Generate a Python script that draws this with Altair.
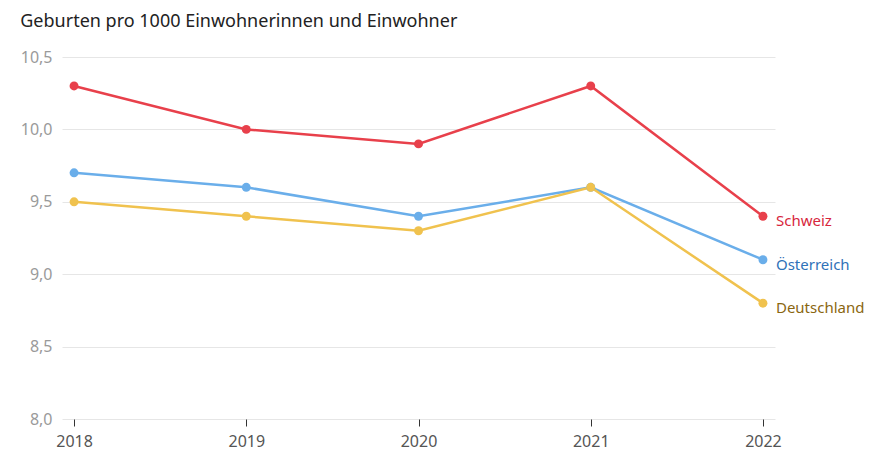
import altair as alt
import pandas as pd

years = [2018, 2019, 2020, 2021, 2022]
countries = ["Schweiz", "Österreich", "Deutschland"]
schweiz = [10.3, 10.0, 9.9, 10.3, 9.4]
oesterreich = [9.7, 9.6, 9.4, 9.6, 9.1]
deutschland = [9.5, 9.4, 9.3, 9.6, 8.8]
line_colors = ["#e8404b", "#6aaeea", "#f0c24e"]
label_colors = ["#d7263d", "#2f72b8", "#8a6610"]

rows = []
for c, vals in zip(countries, [schweiz, oesterreich, deutschland]):
    for y, v in zip(years, vals):
        rows.append({"Jahr": y, "Land": c, "Wert": v})
df = pd.DataFrame(rows)
last = df[df["Jahr"] == 2022]

FONT = "Noto Sans"

x = alt.X("Jahr:Q", scale=alt.Scale(domain=[2017.93, 2022.07], nice=False, zero=False),
          axis=alt.Axis(values=years, format="d", title=None, grid=False, domain=False,
                        ticks=True, tickColor="#333333", tickSize=7, tickWidth=1,
                        labelFontSize=16, labelColor="#555555", labelPadding=7,
                        labelFont=FONT))
y = alt.Y("Wert:Q", scale=alt.Scale(domain=[8.0, 10.5], nice=False, zero=False),
          axis=alt.Axis(values=[8.0, 8.5, 9.0, 9.5, 10.0, 10.5], title=None, domain=False,
                        ticks=False, gridColor="#e6e6e6", gridWidth=1,
                        labelExpr="replace(format(datum.value, '.1f'), '.', ',')",
                        labelFontSize=16, labelColor="#9a9a9a", labelPadding=10,
                        labelFont=FONT))
color = alt.Color("Land:N", scale=alt.Scale(domain=countries, range=line_colors), legend=None)

lines = alt.Chart(df).mark_line(strokeWidth=2.5).encode(x=x, y=y, color=color)
points = alt.Chart(df).mark_circle(size=80, opacity=1).encode(x=x, y=y, color=color)
labels = alt.Chart(last).mark_text(align="left", baseline="middle", dx=13, dy=5,
                                   fontSize=15, font=FONT).encode(
    x=x, y=y, text="Land:N",
    color=alt.Color("Land:N", scale=alt.Scale(domain=countries, range=label_colors), legend=None))

chart = alt.layer(lines, points, labels).resolve_scale(color="independent").properties(
    width=713, height=362,
    title=alt.TitleParams("Geburten pro 1000 Einwohnerinnen und Einwohner", anchor="start",
                          frame="bounds", fontSize=18, fontWeight="normal", color="#222222",
                          font=FONT, offset=18),
    autosize=alt.AutoSizeParams(type="none"),
    padding={"left": 54, "top": 49, "right": 90, "bottom": 35},
).configure_view(stroke=None)

chart.save("out.html", embed_options={"renderer": "svg", "actions": False})
